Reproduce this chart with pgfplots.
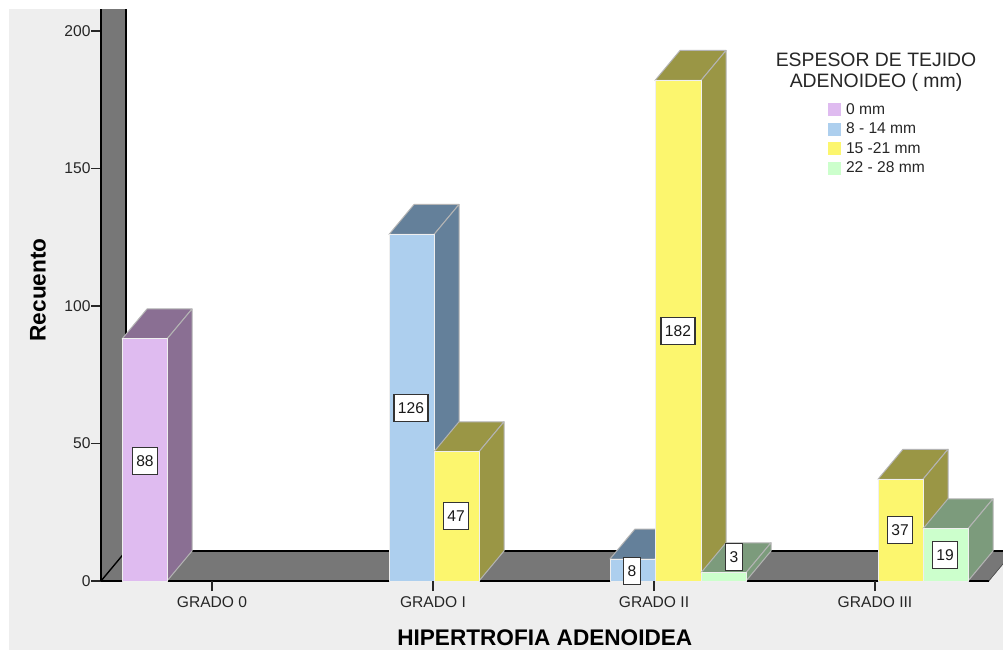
\documentclass[border=0pt]{standalone}
\usepackage{pgfplots}
\pgfplotsset{compat=1.18}
\usepackage{fontspec}
\setmainfont{Liberation Sans}

\definecolor{panel}{HTML}{EEEEEE}
\definecolor{wall}{HTML}{777777}
\definecolor{rimA}{HTML}{EFEFEF}
\definecolor{rimB}{HTML}{B4B4B4}
\definecolor{cPurple}{HTML}{DFBBF0}
\definecolor{dPurple}{HTML}{8A6F93}
\definecolor{cBlue}{HTML}{ADCFEE}
\definecolor{dBlue}{HTML}{64809A}
\definecolor{cYellow}{HTML}{FCF66E}
\definecolor{dYellow}{HTML}{9A9645}
\definecolor{cGreen}{HTML}{CCFFCC}
\definecolor{dGreen}{HTML}{7C9B7C}

% Depth of the extruded bars, in axis units (25 across, 30/2.75 up)
\def\depthx{25}
\def\depthy{10.909}

% \cube{left}{right}{value}{front colour}{shaded colour}
\newcommand{\cube}[5]{%
  \pgfmathsetmacro{\xl}{#1+\depthx}%
  \pgfmathsetmacro{\xr}{#2+\depthx}%
  \pgfmathsetmacro{\yt}{#3+\depthy}%
  \addplot[forget plot,fill=#5,draw=rimB,line width=1pt,line join=round]
    coordinates {(#1,#3)(\xl,\yt)(\xr,\yt)(#2,#3)} --cycle;
  \addplot[forget plot,fill=#5,draw=rimB,line width=1pt,line join=round]
    coordinates {(#2,0)(\xr,\depthy)(\xr,\yt)(#2,#3)} --cycle;
  \addplot[forget plot,fill=#4,draw=rimA,line width=1pt,line join=round]
    coordinates {(#1,0)(#2,0)(#2,#3)(#1,#3)} --cycle;
}

\pgfplotsset{swatchimage/.style={legend image code/.code={\fill[##1,draw=none] (0pt,-6.5pt) rectangle (13pt,6.5pt);}}}
\newcommand{\swatch}[1]{\addlegendimage{swatchimage,fill=#1}}

\pgfplotstableread{
x    y     v
145  43.6  88
411  63    126
456  23.5  47
632  3.6   8
678  91    182
734  8.6   3
900  18.5  37
945  9.5   19
}\barlabels

\begin{document}
\begin{tikzpicture}[x=1pt,y=1pt]
  \path[use as bounding box,fill=white] (0,0) rectangle (1003,651);
  \fill[panel] (9,1) rectangle (1003,642);
  \begin{axis}[
    at={(101pt,70pt)},anchor=south west,
    scale only axis,width=902pt,height=572pt,
    xmin=101,xmax=1003,ymin=0,ymax=208,
    axis on top,
    axis background/.style={fill=white},
    axis x line*=bottom,axis y line*=left,
    axis line style={-,line width=2pt,black},
    x axis line style={draw=none},
    xtick={212,433,654,875},
    xticklabels={GRADO 0,GRADO I,GRADO II,GRADO III},
    ytick={0,50,100,150,200},
    tick align=outside,major tick length=10pt,
    tick style={black!85,line width=1.2pt},
    xtick pos=bottom,ytick pos=left,
    /pgf/number format/assume math mode=true,
    tick label style={font=\fontsize{15.6}{18}\selectfont,text=black!85},
    yticklabel style={xshift=3pt},
    xticklabel style={yshift=-2pt},
    xlabel={\textbf{HIPERTROFIA ADENOIDEA}},
    ylabel={\textbf{Recuento}},
    xlabel style={at={(axis description cs:0.492,-0.0997)},anchor=center,font=\fontsize{22.6}{26}\selectfont},
    ylabel style={at={(axis description cs:-0.0698,0.509)},anchor=center,font=\fontsize{22.6}{26}\selectfont},
    legend style={at={(axis cs:828,174.4)},anchor=north west,draw=none,fill=none,
      font=\fontsize{15.6}{17}\selectfont,text=black!85,
      inner sep=0pt,outer sep=0pt,/tikz/row sep=3.1pt,
      /tikz/column 1/.style={column sep=3pt}},
    legend cell align=left,
  ]
    % back wall and floor of the chart box
    \fill[wall] (axis cs:101,0) rectangle (axis cs:126,208);
    \fill[wall] (axis cs:101,0) -- (axis cs:126,10.909) -- (axis cs:1014,10.909) -- (axis cs:989,0) -- cycle;
    \draw[black,line width=1.4pt] (axis cs:126,10.909) -- (axis cs:126,208);
    \draw[black,line width=1.4pt] (axis cs:126,10.909) -- (axis cs:1014,10.909);
    \draw[black,line width=1.4pt] (axis cs:101,0) -- (axis cs:126,10.909);
    \draw[black,line width=3pt] (axis cs:101,0) -- (axis cs:989,0);
    \draw[black!70,line width=1pt] (axis cs:989,0) -- (axis cs:1014,10.909);
    \fill[panel] (axis cs:989.5,0) -- (axis cs:1003,0) -- (axis cs:1003,5.9) -- cycle;

    \swatch{cPurple}\addlegendentry{0 mm}
    \swatch{cBlue}\addlegendentry{8 - 14 mm}
    \swatch{cYellow}\addlegendentry{15 -21 mm}
    \swatch{cGreen}\addlegendentry{22 - 28 mm}

    \cube{122}{167}{88}{cPurple}{dPurple}
    \cube{389}{434}{126}{cBlue}{dBlue}
    \cube{434}{479}{47}{cYellow}{dYellow}
    \cube{610}{655}{8}{cBlue}{dBlue}
    \cube{655}{701}{182}{cYellow}{dYellow}
    \cube{701}{746}{3}{cGreen}{dGreen}
    \cube{878}{923}{37}{cYellow}{dYellow}
    \cube{923}{968}{19}{cGreen}{dGreen}

    % boxed counts on the bars
    \addplot[forget plot,draw=none,mark=none,
      point meta=explicit symbolic,
      nodes near coords,
      nodes near coords style={anchor=center,fill=white,draw=black!80,line width=1.2pt,
        inner sep=0pt,inner xsep=4pt,minimum height=27pt,text=black!90,
        font=\fontsize{15.6}{18}\selectfont},
    ] table[x=x,y=y,meta=v] {\barlabels};

    \node[align=center,text=black!85,font=\fontsize{19.4}{21}\selectfont]
      at (axis cs:876,184.9) {ESPESOR DE TEJIDO\\ADENOIDEO ( mm)};
  \end{axis}
\end{tikzpicture}
\end{document}
